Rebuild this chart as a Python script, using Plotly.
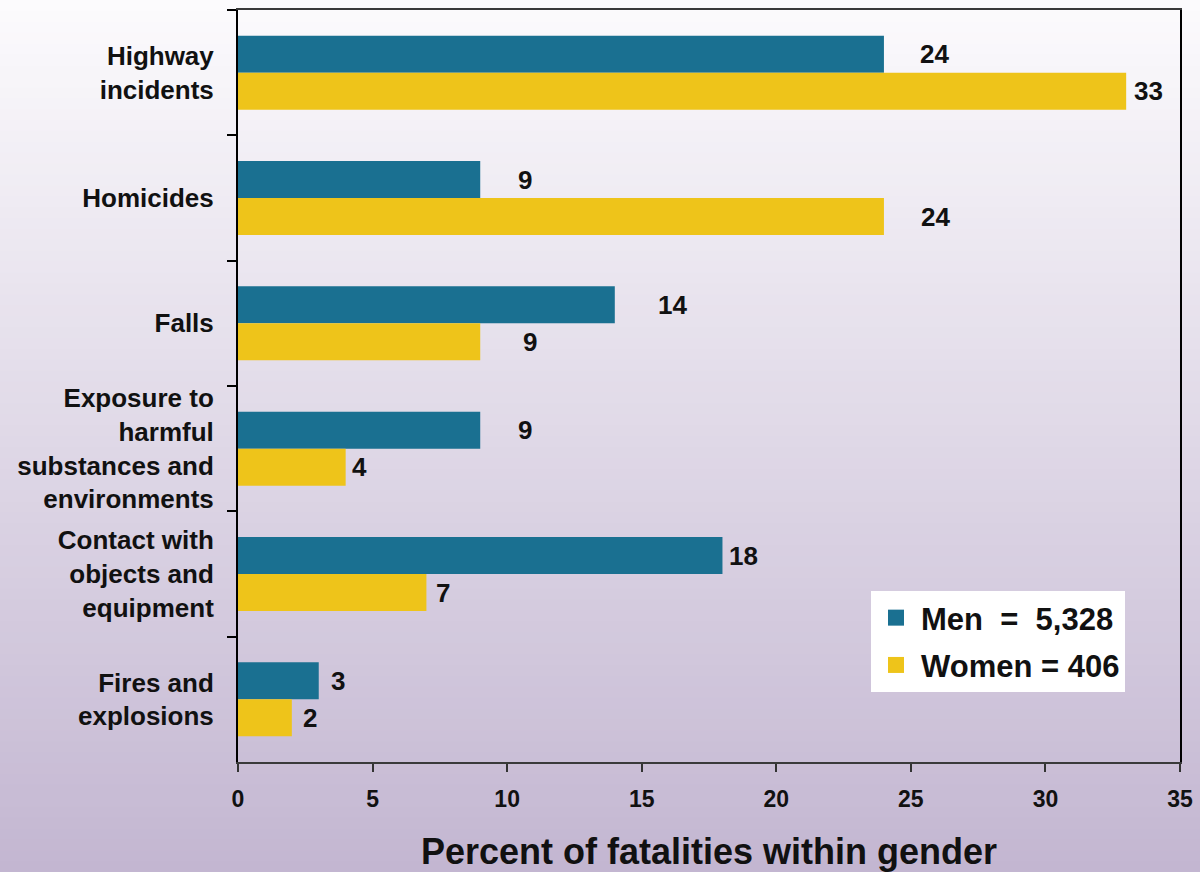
import plotly.graph_objects as go

# ---- data ----
categories = [
    "Highway<br>incidents",
    "Homicides",
    "Falls",
    "Exposure to<br>harmful<br>substances and<br>environments",
    "Contact with<br>objects and<br>equipment",
    "Fires and<br>explosions",
]
men_values = [24, 9, 14, 9, 18, 3]
women_values = [33, 24, 9, 4, 7, 2]
men_legend = "Men\u00a0\u00a0=\u00a0\u00a05,328"
women_legend = "Women = 406"
x_title = "Percent of fatalities within gender"
x_ticks = [0, 5, 10, 15, 20, 25, 30, 35]

# ---- styles ----
MEN_COLOR = "#1a7091"
WOMEN_COLOR = "#eec41a"
FONT = "Liberation Sans, Arial, sans-serif"
# horizontal pixel offsets of value labels (from bar end to label centre)
men_label_shift = [51, 45, 58, 45, 21, 19]
women_label_shift = [22, 52, 50, 14, 17, 18]
BAR_HALF = 18.5

fig = go.Figure()
fig.add_trace(go.Bar(y=categories, x=men_values, orientation="h",
                     marker=dict(color=MEN_COLOR, line=dict(width=0)),
                     name=men_legend, showlegend=False, hoverinfo="x+y"))
fig.add_trace(go.Bar(y=categories, x=women_values, orientation="h",
                     marker=dict(color=WOMEN_COLOR, line=dict(width=0)),
                     name=women_legend, showlegend=False, hoverinfo="x+y"))

# legend entries with larger square symbols
fig.add_trace(go.Scatter(x=[None], y=[None], mode="markers", name=men_legend,
                         legendgroup="m",
                         marker=dict(symbol="square", size=22, color=MEN_COLOR)))
fig.add_trace(go.Scatter(x=[None], y=[None], mode="markers", name=women_legend,
                         legendgroup="w",
                         marker=dict(symbol="square", size=22, color=WOMEN_COLOR)))

annotations = []
for cat, v, s in zip(categories, men_values, men_label_shift):
    annotations.append(dict(x=v, y=cat, xref="x", yref="y", text=str(v),
                            showarrow=False, xanchor="center", xshift=s,
                            yshift=BAR_HALF,
                            font=dict(size=26, color="#111111", family=FONT, weight="bold")))
for cat, v, s in zip(categories, women_values, women_label_shift):
    annotations.append(dict(x=v, y=cat, xref="x", yref="y", text=str(v),
                            showarrow=False, xanchor="center", xshift=s,
                            yshift=-BAR_HALF,
                            font=dict(size=26, color="#111111", family=FONT, weight="bold")))

# vertical background gradient (white -> lavender) built from thin strips
W, H = 1200, 872
ML, MR, MT, MB = 238, 20, 10, 110
plot_h = H - MT - MB
top_rgb = (252, 251, 253)
bot_rgb = (195, 182, 209)
n_strips = 80
shapes = []
for i in range(n_strips):
    p0 = H * i / n_strips
    p1 = H * (i + 1) / n_strips + 1
    t = (i + 0.5) / n_strips
    c = tuple(round(a + (b - a) * t) for a, b in zip(top_rgb, bot_rgb))
    shapes.append(dict(type="rect", xref="paper", yref="paper", layer="below",
                       x0=-0.3, x1=1.1,
                       y0=(H - MB - p1) / plot_h, y1=(H - MB - p0) / plot_h,
                       fillcolor="rgb(%d,%d,%d)" % c, line=dict(width=0)))

fig.update_layout(
    width=W, height=H,
    margin=dict(l=ML, r=MR, t=MT, b=MB),
    paper_bgcolor="rgb(252,251,253)",
    plot_bgcolor="rgba(0,0,0,0)",
    font=dict(family=FONT, color="#111111", weight="bold"),
    barmode="group",
    bargap=0.41,
    bargroupgap=0,
    shapes=shapes,
    annotations=annotations,
    showlegend=True,
    legend=dict(x=0.672, y=0.2274, xanchor="left", yanchor="top",
                bgcolor="white", borderwidth=0,
                font=dict(size=31, family=FONT, color="#111111", weight="bold"),
                tracegroupgap=4, itemsizing="trace", itemwidth=40),
    xaxis=dict(range=[0, 35], tickmode="array", tickvals=x_ticks,
               ticks="outside", ticklen=8, tickwidth=2, tickcolor="#333333",
               showline=True, linewidth=2, linecolor="#3a3a3a", mirror=True,
               showgrid=False, zeroline=False,
               tickfont=dict(size=23, family=FONT, color="#111111", weight="bold"),
               ticklabelstandoff=7,
               title=dict(text=x_title, standoff=28,
                          font=dict(size=36, family=FONT, color="#111111", weight="bold")),
               automargin=False, fixedrange=True),
    yaxis=dict(autorange="reversed", ticks="outside", tickson="boundaries",
               ticklen=9, tickwidth=2, tickcolor="#000000",
               showline=True, linewidth=2, linecolor="#000000", mirror=True,
               showgrid=False,
               tickfont=dict(size=26, family=FONT, color="#111111", weight="bold"),
               ticklabelstandoff=17,
               automargin=False, fixedrange=True),
)

fig.write_html("out.html", config={"displayModeBar": False},
               post_script="document.body.style.margin='0';")
